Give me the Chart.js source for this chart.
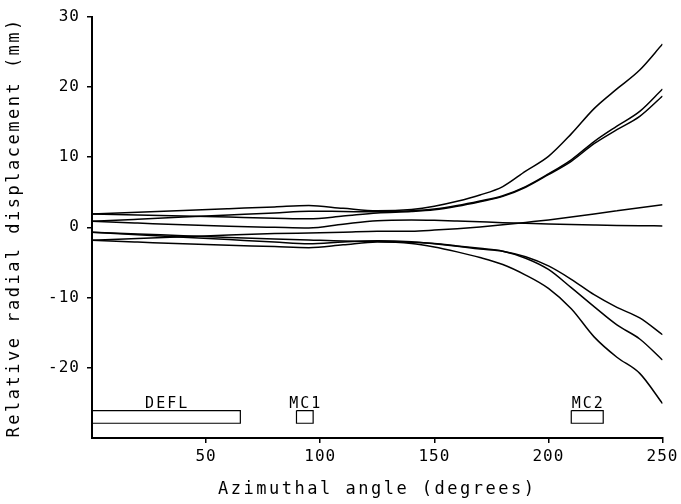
<!DOCTYPE html>
<html>
<head>
<meta charset="utf-8">
<script src="https://cdn.jsdelivr.net/npm/chart.js@4.4.1/dist/chart.umd.min.js"></script>
<style>
  html, body { margin: 0; padding: 0; background: #fff; }
  canvas { display: block; }
</style>
</head>
<body>
<canvas id="chart" width="681" height="504"></canvas>
<script>
// azimuthal angle (degrees) at which the trajectories were read
const angles = [0, 20, 40, 60, 80, 95, 110, 125, 140, 150, 160, 170, 180, 190, 200, 210, 220, 230, 240, 250];

// relative radial displacement (mm), one array per trajectory
const trackA = [1.9, 2.15, 2.4, 2.65, 2.9, 3.1, 2.7, 2.35, 2.55, 3.0, 3.7, 4.6, 5.8, 8.0, 10.1, 13.3, 16.9, 19.7, 22.4, 26.1];
const trackB = [0.85, 1.15, 1.45, 1.75, 2.05, 2.3, 2.25, 2.2, 2.35, 2.6, 3.1, 3.75, 4.5, 5.8, 7.6, 9.6, 12.2, 14.4, 16.5, 19.7];
const trackC = [1.9, 1.75, 1.6, 1.45, 1.3, 1.2, 1.6, 2.05, 2.25, 2.5, 3.0, 3.65, 4.4, 5.7, 7.5, 9.4, 11.9, 13.9, 15.8, 18.7];
const trackD = [-1.85, -1.6, -1.35, -1.1, -0.9, -0.8, -0.7, -0.57, -0.55, -0.4, -0.2, 0.05, 0.35, 0.7, 1.05, 1.45, 1.9, 2.35, 2.8, 3.2];
const trackE = [0.85, 0.6, 0.35, 0.15, 0.0, -0.1, 0.45, 0.95, 1.05, 1.0, 0.9, 0.78, 0.66, 0.56, 0.47, 0.39, 0.32, 0.26, 0.22, 0.2];
const trackF = [-0.7, -0.95, -1.2, -1.45, -1.65, -1.8, -1.95, -2.0, -2.15, -2.3, -2.65, -3.0, -3.4, -4.2, -5.5, -7.4, -9.6, -11.4, -12.9, -15.3];
const trackG = [-0.7, -1.05, -1.4, -1.75, -2.1, -2.35, -2.1, -1.9, -2.05, -2.35, -2.7, -3.1, -3.4, -4.4, -6.0, -8.6, -11.3, -13.9, -15.9, -18.9];
const trackH = [-1.85, -2.1, -2.35, -2.55, -2.75, -2.9, -2.5, -2.1, -2.3, -2.8, -3.5, -4.3, -5.3, -6.8, -8.7, -11.6, -15.6, -18.5, -20.8, -25.1];
const tracks = [trackA, trackB, trackC, trackD, trackE, trackF, trackG, trackH];

// extraction elements drawn as boxes near the bottom
const elementNames = ['DEFL', 'MC1', 'MC2'];
const elementStart = [0, 89.6, 210];
const elementEnd = [65, 96.9, 224];
const elementTop = -26.1;
const elementBottom = -27.9;

const xTicks = [50, 100, 150, 200, 250];
const yTicks = [-20, -10, 0, 10, 20, 30];

const xTitle = 'Azimuthal angle (degrees)';
const yTitle = 'Relative radial displacement (mm)';

const MONO = '"DejaVu Sans Mono", "Liberation Mono", monospace';

const trackDatasets = tracks.map((values) => ({
  data: angles.map((a, i) => ({ x: a, y: values[i] })),
  borderColor: '#000',
  borderWidth: 1.5,
  pointRadius: 0,
  fill: false,
  cubicInterpolationMode: 'monotone',
}));

const elementDatasets = elementNames.map((name, i) => ({
  label: name,
  data: [
    { x: elementStart[i], y: elementTop },
    { x: elementEnd[i], y: elementTop },
    { x: elementEnd[i], y: elementBottom },
    { x: elementStart[i], y: elementBottom },
    { x: elementStart[i], y: elementTop },
  ],
  borderColor: '#000',
  borderWidth: 1.2,
  pointRadius: 0,
  fill: false,
  tension: 0,
}));

const textPlugin = {
  id: 'plotterText',
  beforeDraw(chart) {
    chart.ctx.letterSpacing = '1px';
  },
  afterDraw(chart) {
    const { ctx, scales } = chart;
    ctx.save();
    ctx.fillStyle = '#000';
    ctx.letterSpacing = '2px';
    ctx.font = '15px ' + MONO;
    ctx.textAlign = 'center';
    ctx.textBaseline = 'alphabetic';
    elementNames.forEach((name, i) => {
      const x = scales.x.getPixelForValue((elementStart[i] + elementEnd[i]) / 2);
      const y = scales.y.getPixelForValue(elementTop) - 3;
      ctx.fillText(name, x + 1, y);
    });

    ctx.letterSpacing = '2.5px';
    ctx.font = '17px ' + MONO;
    ctx.textBaseline = 'middle';
    const area = chart.chartArea;
    ctx.fillText(xTitle, (area.left + area.right) / 2, 490);
    ctx.translate(15, (area.top + area.bottom) / 2);
    ctx.rotate(-Math.PI / 2);
    ctx.fillText(yTitle, 0, 0);
    ctx.restore();
  },
};

new Chart(document.getElementById('chart'), {
  type: 'line',
  data: { datasets: [...trackDatasets, ...elementDatasets] },
  options: {
    responsive: false,
    animation: false,
    devicePixelRatio: 1,
    layout: { padding: { top: 15, right: 16, left: 0, bottom: 0 } },
    plugins: {
      legend: { display: false },
      tooltip: { enabled: false },
    },
    scales: {
      x: {
        type: 'linear',
        min: 0,
        max: 250,
        afterBuildTicks: (scale) => {
          scale.ticks = xTicks.map((value) => ({ value }));
        },
        afterFit: (scale) => {
          scale.height = 66;
        },
        grid: { drawOnChartArea: false, drawTicks: true, tickLength: 5, color: '#000', lineWidth: 1.5 },
        border: { display: true, color: '#000', width: 2 },
        ticks: { color: '#000', padding: 4, maxRotation: 0, font: { family: MONO, size: 16 } },
      },
      y: {
        type: 'linear',
        min: -30,
        max: 30,
        afterBuildTicks: (scale) => {
          scale.ticks = yTicks.map((value) => ({ value }));
        },
        afterFit: (scale) => {
          scale.width = 92;
        },
        grid: { drawOnChartArea: false, drawTicks: true, tickLength: 5, color: '#000', lineWidth: 1.5 },
        border: { display: true, color: '#000', width: 2 },
        ticks: { color: '#000', padding: 7, font: { family: MONO, size: 16 } },
      },
    },
  },
  plugins: [textPlugin],
});
</script>
</body>
</html>
